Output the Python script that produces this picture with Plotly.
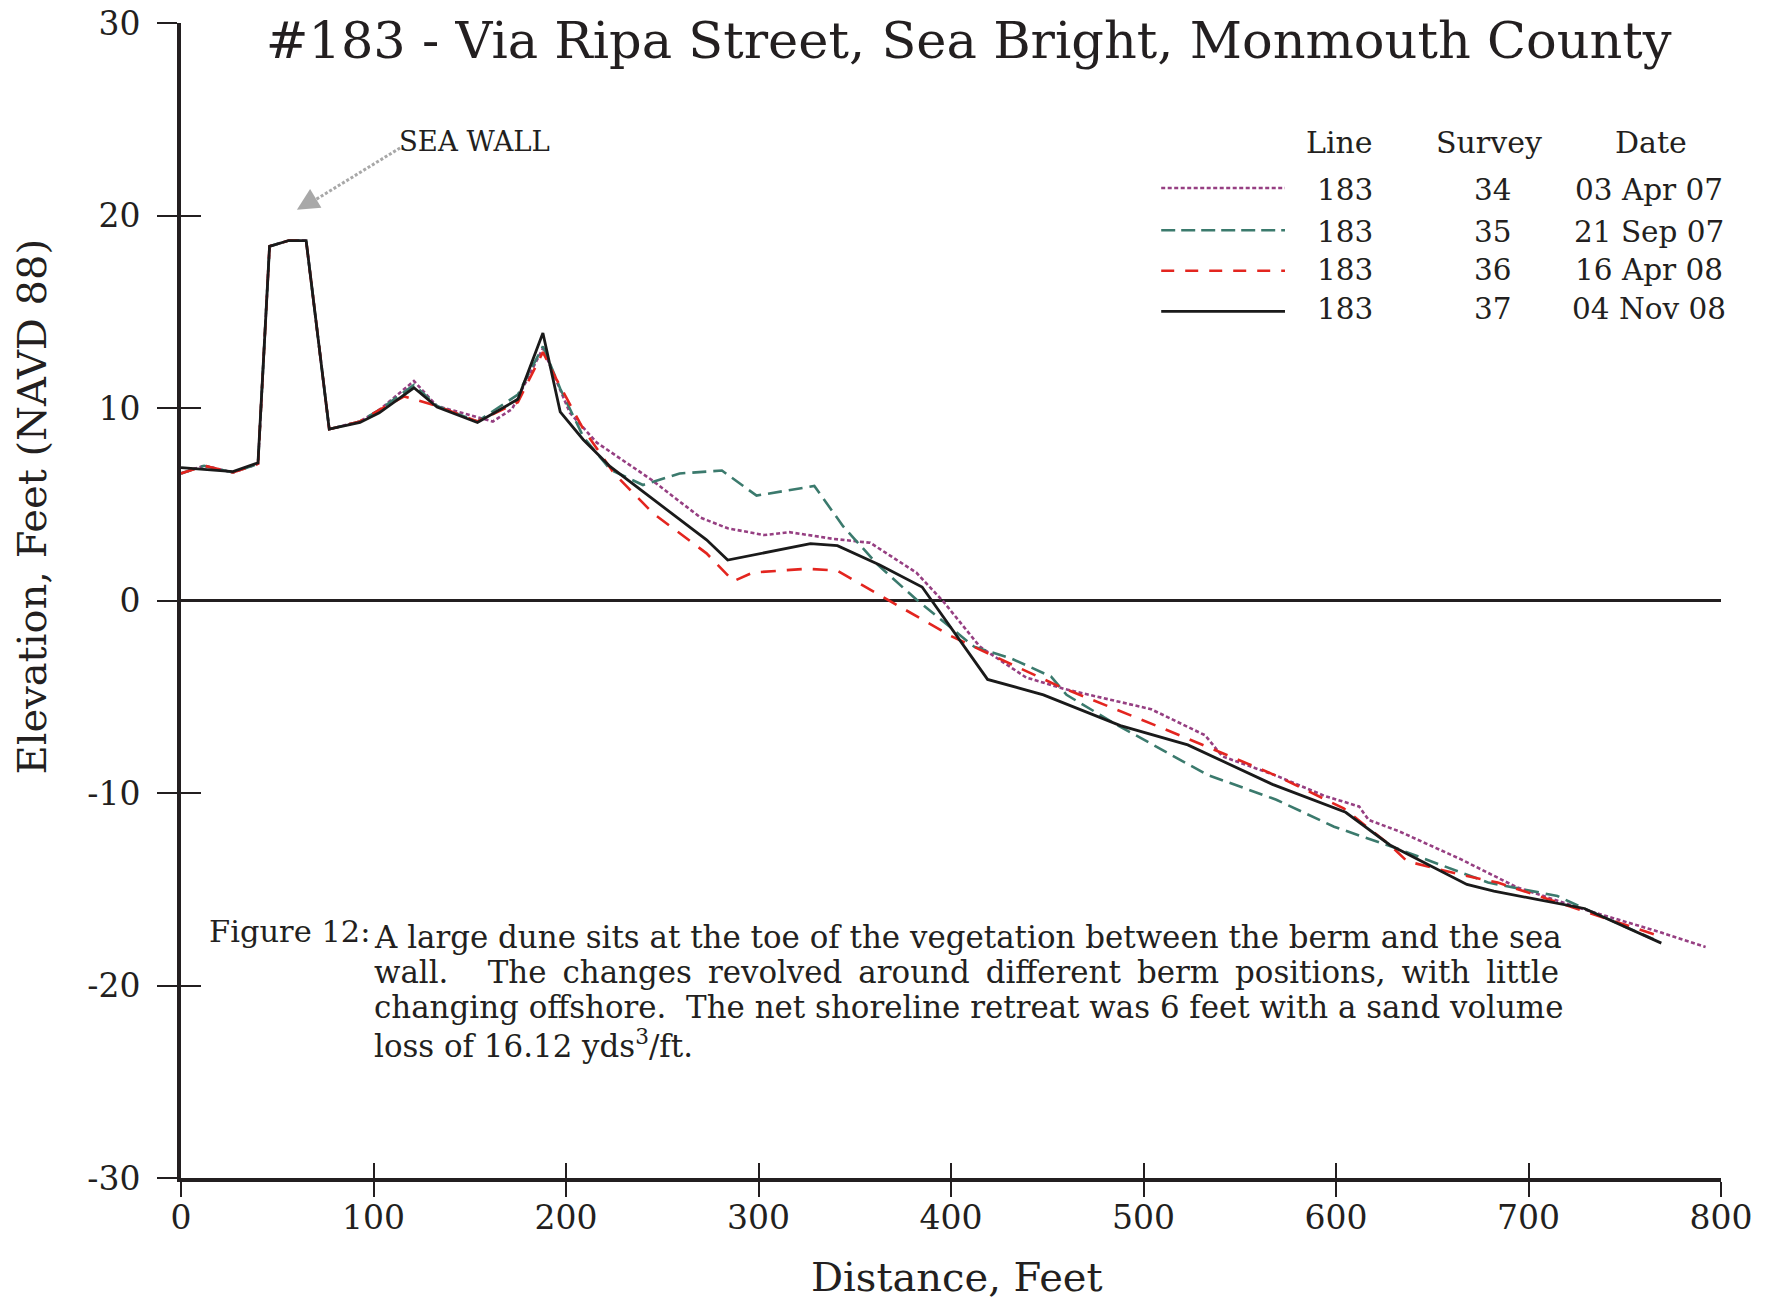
import plotly.graph_objects as go

# ---------------- data ----------------
x34 = [0, 12, 27, 40, 46, 56, 65, 77, 93, 103, 121, 133, 162, 172, 188, 202, 216, 244, 270, 284, 303, 316, 339, 358, 382, 396, 415, 439, 459, 504, 532, 541, 569, 594, 612, 617, 633, 665, 694, 729, 769, 792]
y34 = [6.6, 7.0, 6.65, 7.1, 18.4, 18.7, 18.7, 8.9, 9.3, 9.9, 11.4, 10.1, 9.3, 9.95, 13.1, 9.75, 8.2, 6.3, 4.3, 3.75, 3.4, 3.55, 3.2, 3.0, 1.45, -0.05, -2.4, -4.0, -4.6, -5.65, -7.0, -8.1, -9.1, -10.15, -10.7, -11.4, -12.0, -13.45, -14.9, -16.05, -17.25, -18.0]

x35 = [0, 12, 27, 40, 46, 56, 65, 77, 93, 103, 121, 133, 154, 175, 188, 197, 209, 223, 240, 259, 281, 299, 329, 344, 362, 382, 412, 431, 452, 460, 486, 533, 569, 599, 632, 651, 679, 715, 729, 765]
y35 = [6.6, 7.0, 6.65, 7.1, 18.4, 18.7, 18.7, 8.9, 9.3, 9.9, 11.2, 10.1, 9.3, 10.7, 13.2, 11.0, 8.5, 6.8, 6.0, 6.6, 6.75, 5.45, 5.95, 3.85, 1.85, 0.05, -2.4, -3.0, -3.95, -4.9, -6.45, -9.05, -10.35, -11.75, -12.9, -13.6, -14.65, -15.35, -16.0, -17.6]

x36 = [0, 12, 27, 40, 46, 56, 65, 77, 93, 103, 116, 121, 133, 154, 175, 188, 195, 209, 225, 245, 273, 287, 297, 325, 341, 367, 400, 415, 457, 509, 569, 604, 628, 637, 665, 684, 720, 770]
y36 = [6.6, 7.0, 6.65, 7.1, 18.4, 18.7, 18.7, 8.9, 9.3, 9.9, 10.6, 10.45, 10.1, 9.3, 10.3, 12.9, 11.5, 8.9, 6.6, 4.55, 2.45, 1.0, 1.45, 1.65, 1.55, 0.05, -1.85, -2.55, -4.5, -6.6, -9.1, -10.8, -12.7, -13.55, -14.25, -14.65, -15.85, -17.5]

x37 = [0, 27, 40, 46, 56, 65, 77, 93, 103, 121, 133, 154, 175, 188, 197, 209, 223, 273, 284, 327, 341, 363, 385, 419, 448, 488, 523, 567, 605, 628, 668, 682, 703, 729, 769]
y37 = [6.9, 6.7, 7.15, 18.4, 18.7, 18.7, 8.9, 9.25, 9.75, 11.05, 10.05, 9.25, 10.45, 13.9, 9.8, 8.35, 6.95, 3.15, 2.1, 2.95, 2.85, 1.85, 0.7, -4.1, -4.9, -6.5, -7.5, -9.55, -11.0, -12.7, -14.75, -15.1, -15.5, -16.0, -17.8]

lines = ["183", "183", "183", "183"]
surveys = ["34", "35", "36", "37"]
dates = ["03 Apr 07", "21 Sep 07", "16 Apr 08", "04 Nov 08"]

x_ticks = [0, 100, 200, 300, 400, 500, 600, 700, 800]
y_ticks = [-30, -20, -10, 0, 10, 20, 30]
x_ticktext = [str(v) for v in x_ticks]
y_ticktext = [str(v) for v in y_ticks]

title = "#183 - Via Ripa Street, Sea Bright, Monmouth County"
TS = " \u2009"  # widened word gap for the justified caption line
caption_lines = [
    "A large dune sits at the toe of the vegetation between the berm and the sea",
    "wall. &nbsp;&nbsp;&nbsp;The" + TS + "changes" + TS + "revolved" + TS + "around" + TS
    + "different" + TS + "berm" + TS + "positions," + TS + "with" + TS + "little",
    "changing offshore.&nbsp; The net shoreline retreat was 6 feet with a sand volume",
    "loss of 16.12 yds<sup>3</sup>/ft.",
]

# ---------------- styles ----------------
FONT = "DejaVu Serif"
TXT = "#231f20"
styles = [
    dict(color="#963f82", width=2.6, dash="4px,2.5px"),
    dict(color="#3b7a6d", width=2.6, dash="14px,7px"),
    dict(color="#e3251f", width=2.6, dash="15px,11px"),
    dict(color="#1a1a1a", width=2.8, dash="solid"),
]
legend_dash = ["4px,2.5px", "14px,6px", "13px,11px", "solid"]

W, H = 1768, 1293
ML, MT, PW, PH = 173, 15, 1540, 1155

fig = go.Figure()
for xs, ys, st, sv in zip([x34, x35, x36, x37], [y34, y35, y36, y37], styles, surveys):
    fig.add_trace(go.Scatter(x=xs, y=ys, mode="lines", line=st, name=sv,
                             showlegend=False, hoverinfo="skip"))

# dummy trace for overlay axes (crossing ticks)
fig.add_trace(go.Scatter(x=[None], y=[None], xaxis="x2", yaxis="y2",
                         showlegend=False, hoverinfo="skip"))

axis_common = dict(showgrid=False, showline=True, linecolor=TXT,
                   tickcolor=TXT, ticklabeloverflow="allow",
                   tickfont=dict(family=FONT, size=33, color=TXT))

fig.update_layout(
    width=W, height=H,
    paper_bgcolor="white", plot_bgcolor="white",
    margin=dict(l=ML, r=W - ML - PW, t=MT, b=H - MT - PH, pad=0, autoexpand=False),
    font=dict(family=FONT, color=TXT),
    title=dict(text=title, x=0.5115, xref="paper", xanchor="center",
               y=1 - 32 / H, yref="container", yanchor="middle",
               font=dict(family=FONT, size=51, color=TXT)),
    xaxis=dict(range=[0, 800], tickvals=x_ticks, ticktext=x_ticktext, ticks="outside",
               ticklen=15, tickwidth=2, linewidth=4, zeroline=False,
               ticklabelstandoff=-8, **axis_common),
    yaxis=dict(range=[-30, 30], tickvals=y_ticks, ticktext=y_ticktext, ticks="outside",
               ticklen=20, tickwidth=2, linewidth=4, zeroline=True, zerolinecolor=TXT,
               zerolinewidth=2.5, ticklabelstandoff=10, **axis_common),
    xaxis2=dict(range=[0, 800], tickvals=x_ticks, ticks="inside", ticklen=15,
                tickwidth=2, showline=False, showgrid=False, zeroline=False,
                showticklabels=False, overlaying="x", anchor="y", side="bottom",
                tickcolor=TXT),
    yaxis2=dict(range=[-30, 30], tickvals=y_ticks, ticks="inside", ticklen=20,
                tickwidth=2, showline=False, showgrid=False, zeroline=False,
                showticklabels=False, overlaying="y", anchor="x", side="left",
                tickcolor=TXT),
)

ann = []
# axis titles
ann.append(dict(text="Elevation, Feet (NAVD 88)", xref="paper", yref="paper",
                x=(32 - 181) / PW, y=(1178.7 - 507) / 1155.4, textangle=-90,
                showarrow=False, xanchor="center", yanchor="middle",
                font=dict(family=FONT, size=40, color=TXT)))
ann.append(dict(text="Distance, Feet", xref="paper", yref="paper",
                x=(957 - 181) / PW, y=(1178.7 - 1278) / 1155.4,
                showarrow=False, xanchor="center", yanchor="middle",
                font=dict(family=FONT, size=40, color=TXT)))

# legend table
hdr_y = 23.77
for t, xc in [("Line", 601.7), ("Survey", 679.3), ("Date", 763.8)]:
    ann.append(dict(text=t, x=xc, y=hdr_y, xref="x", yref="y", showarrow=False,
                    xanchor="center", yanchor="middle",
                    font=dict(family=FONT, size=30, color=TXT)))
row_y = [21.34, 19.16, 17.19, 15.16]
sample_y = [21.43, 19.23, 17.13, 15.02]
shapes = []
for i in range(4):
    for txt, xc in [(lines[i], 604.7), (surveys[i], 681.7), (dates[i], 762.8)]:
        ann.append(dict(text=txt, x=xc, y=row_y[i], xref="x", yref="y", showarrow=False,
                        xanchor="center", yanchor="middle",
                        font=dict(family=FONT, size=29.5, color=TXT)))
    shapes.append(dict(type="line", xref="x", yref="y", x0=509.2, x1=573.5,
                       y0=sample_y[i], y1=sample_y[i],
                       line=dict(color=styles[i]["color"], width=styles[i]["width"],
                                 dash=legend_dash[i])))

# sea wall annotation
ann.append(dict(text="SEA WALL", x=112.0, y=23.85, xref="x", yref="y", showarrow=False,
                xanchor="left", yanchor="middle", font=dict(family=FONT, size=27.5, color=TXT)))
shapes.append(dict(type="line", xref="x", yref="y", x0=113.8, y0=23.51, x1=68.6, y1=20.74,
                   line=dict(color="#a8a8a8", width=3, dash="3px,2px")))
ann.append(dict(text="", x=60.2, y=20.3, xref="x", yref="y", showarrow=True,
                ax=10, ay=-6, arrowhead=2, arrowsize=2.2, arrowwidth=2,
                arrowcolor="#a8a8a8"))

# caption
ann.append(dict(text="Figure 12:", x=13.4, y=-17.19, xref="x", yref="y", showarrow=False,
                xanchor="left", yanchor="middle", font=dict(family=FONT, size=30.5, color=TXT)))
cap_y = [-17.5, -19.32, -21.13, -23.05]
for t, yy in zip(caption_lines, cap_y):
    ann.append(dict(text=t, x=99.3, y=yy, xref="x", yref="y", showarrow=False,
                    xanchor="left", yanchor="middle", align="left",
                    font=dict(family=FONT, size=30.9, color=TXT)))

fig.update_layout(annotations=ann, shapes=shapes)
fig.write_html("out.html")
